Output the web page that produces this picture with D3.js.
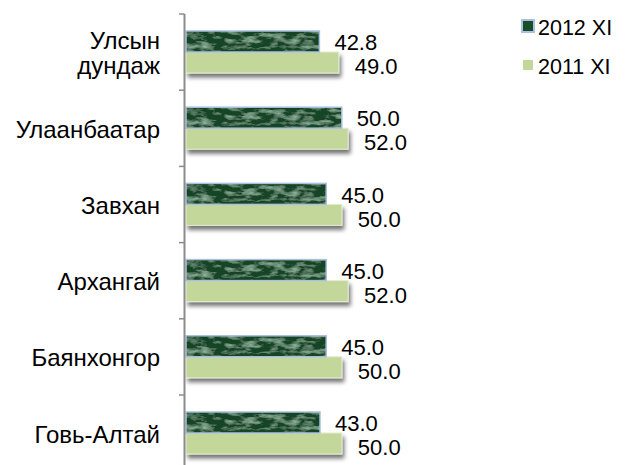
<!DOCTYPE html>
<html>
<head>
<meta charset="utf-8">
<script src="https://cdn.jsdelivr.net/npm/d3@7"></script>
<style>
  body { margin: 0; background: #fff; }
  text { font-family: "Liberation Sans", Arial, sans-serif; fill: #000; }
</style>
</head>
<body>
<svg id="chart" width="625" height="465"></svg>
<script>
const categories = ['Улсын дундаж', 'Улаанбаатар', 'Завхан', 'Архангай', 'Баянхонгор', 'Говь-Алтай'];
const series = ['2012 XI', '2011 XI'];
const values2012 = [42.8, 50.0, 45.0, 45.0, 45.0, 43.0];
const values2011 = [49.0, 52.0, 50.0, 52.0, 50.0, 50.0];

const svg = d3.select('#chart');
const bandH = 76.2;
const plotTop = 14;
const x0 = 186;

const x = d3.scaleLinear().domain([0, 60]).range([x0, x0 + 187]);
const y = d3.scaleBand().domain(categories).range([plotTop, plotTop + bandH * categories.length]);
const ySub = d3.scaleBand().domain(series).range([17, 59]);
const fmt = d3.format('.1f');

// defs: mottled texture for dark bars, shadow for light bars
const defs = svg.append('defs');
const tex = defs.append('filter').attr('id', 'tex')
  .attr('x', 0).attr('y', 0).attr('width', 1).attr('height', 1);
tex.append('feTurbulence').attr('type', 'fractalNoise')
  .attr('baseFrequency', '0.07 0.2').attr('numOctaves', 4).attr('seed', 11).attr('result', 'n');
tex.append('feColorMatrix').attr('in', 'n').attr('type', 'matrix')
  .attr('values', '0 0 0 0 0.33  0 0 0 0 0.55  0 0 0 0 0.4  0 0 0 2 -0.9').attr('result', 'c');
tex.append('feComposite').attr('in', 'c').attr('in2', 'SourceGraphic').attr('operator', 'in').attr('result', 't');
const m = tex.append('feMerge');
m.append('feMergeNode').attr('in', 'SourceGraphic');
m.append('feMergeNode').attr('in', 't');

const sh = defs.append('filter').attr('id', 'shadow')
  .attr('x', '-5%').attr('y', '-20%').attr('width', '115%').attr('height', '170%');
sh.append('feGaussianBlur').attr('in', 'SourceAlpha').attr('stdDeviation', 2);
sh.append('feOffset').attr('dx', 2).attr('dy', 4).attr('result', 'b');
sh.append('feComponentTransfer').attr('in', 'b').attr('result', 'bs')
  .append('feFuncA').attr('type', 'linear').attr('slope', 0.55);
const m2 = sh.append('feMerge');
m2.append('feMergeNode').attr('in', 'bs');
m2.append('feMergeNode').attr('in', 'SourceGraphic');

const groups = svg.selectAll('g.cat')
  .data(categories)
  .enter().append('g')
  .attr('class', 'cat')
  .attr('transform', d => 'translate(0,' + y(d) + ')');

// light bars (2011) with a soft shadow
groups.append('rect')
  .attr('x', x(0))
  .attr('y', ySub('2011 XI'))
  .attr('width', (d, i) => x(values2011[i]) - x(0))
  .attr('height', ySub.bandwidth())
  .attr('fill', '#c4d79b')
  .attr('stroke', '#e2ebcd')
  .attr('stroke-width', 1)
  .attr('filter', 'url(#shadow)');

groups.append('rect')
  .attr('x', x(0))
  .attr('y', ySub('2012 XI'))
  .attr('width', (d, i) => x(values2012[i]) - x(0))
  .attr('height', ySub.bandwidth())
  .attr('fill', '#164425')
  .attr('filter', 'url(#tex)');

groups.append('rect')
  .attr('x', x(0))
  .attr('y', ySub('2012 XI'))
  .attr('width', (d, i) => x(values2012[i]) - x(0))
  .attr('height', ySub.bandwidth())
  .attr('fill', 'none')
  .attr('stroke', '#a9c1de')
  .attr('stroke-width', 1.5);

// value labels
groups.append('text')
  .attr('x', (d, i) => x(values2012[i]) + 15)
  .attr('y', ySub('2012 XI') + ySub.bandwidth() / 2 + 1)
  .attr('dy', '0.35em')
  .style('font-size', '22px')
  .text((d, i) => fmt(values2012[i]));

groups.append('text')
  .attr('x', (d, i) => x(values2011[i]) + 16)
  .attr('y', ySub('2011 XI') + ySub.bandwidth() / 2 + 4)
  .attr('dy', '0.35em')
  .style('font-size', '22px')
  .text((d, i) => fmt(values2011[i]));

// category labels
groups.append('text')
  .attr('text-anchor', 'end')
  .attr('x', 160)
  .attr('y', bandH / 2)
  .style('font-size', '24px')
  .each(function (d) {
    const words = d.split(' ');
    const t = d3.select(this);
    const lh = 25;
    words.forEach((w, k) => {
      t.append('tspan')
        .attr('x', 160)
        .attr('y', bandH / 2 + 1 + (k - (words.length - 1) / 2) * lh)
        .attr('dy', '0.35em')
        .text(w);
    });
  });

// axis line and category ticks
svg.append('line')
  .attr('x1', x0 - 1.5).attr('x2', x0 - 1.5)
  .attr('y1', plotTop).attr('y2', 465)
  .attr('stroke', '#8c8c8c').attr('stroke-width', 2);

svg.selectAll('line.tick')
  .data(d3.range(categories.length + 1))
  .enter().append('line')
  .attr('class', 'tick')
  .attr('x1', 179).attr('x2', x0 - 1.5)
  .attr('y1', i => plotTop + i * bandH).attr('y2', i => plotTop + i * bandH)
  .attr('stroke', '#8c8c8c').attr('stroke-width', 1.5);

// legend
const legend = svg.append('g');
legend.append('rect')
  .attr('x', 522).attr('y', 20).attr('width', 12).attr('height', 12)
  .attr('fill', '#1c4d2b').attr('stroke', '#a9c1de').attr('stroke-width', 2);
legend.append('rect')
  .attr('x', 523).attr('y', 60).attr('width', 10).attr('height', 10)
  .attr('fill', '#c4d79b');
legend.selectAll('text.leg')
  .data(series)
  .enter().append('text')
  .attr('class', 'leg')
  .attr('x', 538)
  .attr('y', (d, i) => 27 + i * 39)
  .attr('dy', '0.35em')
  .style('font-size', '21.5px')
  .text(d => d);
</script>
</body>
</html>
